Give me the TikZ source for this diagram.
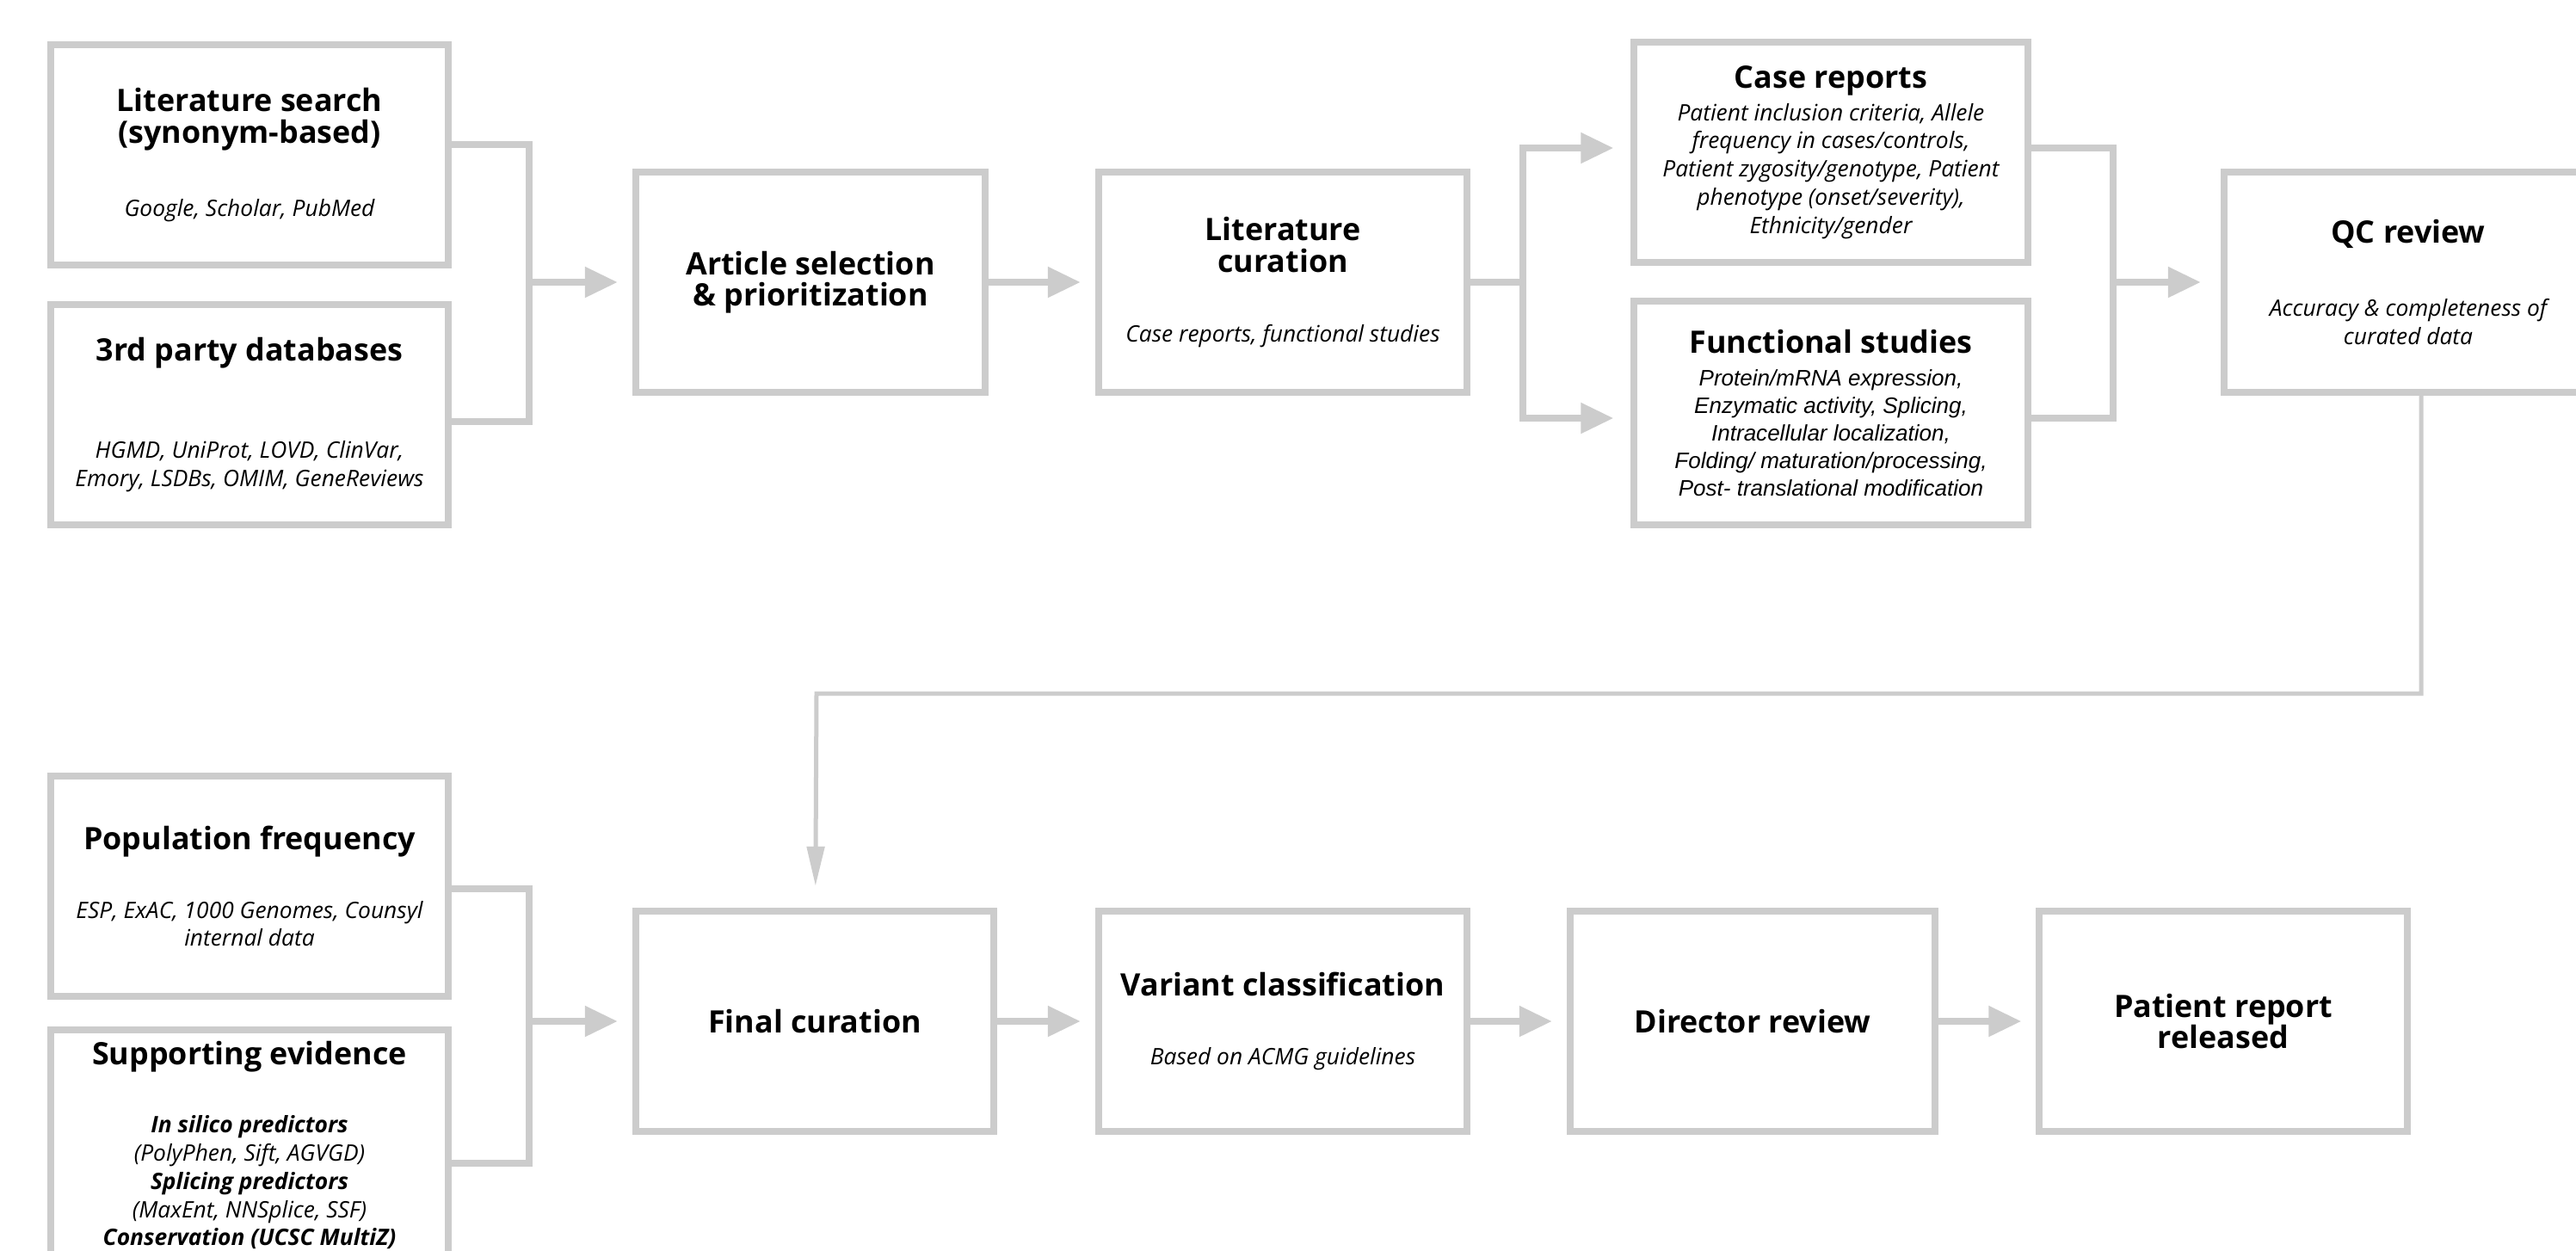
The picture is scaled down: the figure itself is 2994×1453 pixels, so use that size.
\documentclass[tikz,border=0pt]{standalone}
\usepackage{fontspec}
\setmainfont{Open Sans}
\newfontfamily\arialfont{Liberation Sans}
\usepackage{tikz}
\usetikzlibrary{arrows.meta,positioning,calc}
\definecolor{linegray}{HTML}{CCCCCC}
\newcommand{\hdfont}{\fontsize{10.2}{10.4}\selectfont\bfseries}
\newcommand{\bdfont}{\fontsize{7.5}{9.3}\selectfont\itshape}
\newcommand{\bdarial}{\arialfont\fontsize{7.4}{9.1}\selectfont\itshape}

\begin{document}
\begin{tikzpicture}[
  x=0.01cm, y=-0.01cm,
  stage/.style={draw=linegray,line width=0.08cm,fill=white,inner xsep=0.05cm,inner ysep=0pt,minimum height=2.56cm,text width=#1,align=flush center},
  link/.style={draw=linegray,line width=0.08cm},
  arrow/.style={link,-{Triangle[length=0.38cm,width=0.34cm]},shorten >=0.17cm},
  downarrow/.style={link,line width=0.05cm,-{Triangle[length=0.46cm,width=0.2cm]},shorten >=0.25cm}
]
\path[use as bounding box,fill=white] (0,0) rectangle (2994,1453);

% upper row
\node[stage=4.52cm] (litsearch) at (290,180) {{\hdfont Literature search\\(synonym-based)\par}\vspace{15pt}{\bdfont Google, Scholar, PubMed\par}};
\node[stage=4.52cm] (thirdparty) at (290,482) {{\hdfont 3rd party databases\par}\vspace{23pt}{\bdfont HGMD, UniProt, LOVD, ClinVar,\\Emory, LSDBs, OMIM, GeneReviews\par}};
\node[stage=3.96cm] (artsel) at (942,328) {{\hdfont Article selection\\\& prioritization\par}};
\node[stage=4.18cm] (litcur) at (1491,328) {{\hdfont Literature\\curation\par}\vspace{13.6pt}{\bdfont Case reports, functional studies\par}};
\node[stage=4.47cm] (casereps) at (2128,177) {{\hdfont Case reports\par}\vspace{1.4pt}{\bdfont Patient inclusion criteria, Allele\\frequency in cases/controls,\\Patient zygosity/genotype, Patient\\phenotype (onset/severity),\\Ethnicity/gender\par}};
\node[stage=4.47cm,minimum height=2.59cm] (funcstud) at (2128,480) {{\hdfont Functional studies\par}\vspace{1.8pt}{\bdarial Protein/mRNA expression,\\Enzymatic activity, Splicing,\\Intracellular localization,\\Folding/ maturation/processing,\\Post- translational modification\par}};
\node[stage=4.18cm] (qcrev) at (2799,328) {{\hdfont QC review\par}\vspace{14.8pt}{\bdfont Accuracy \& completeness of\\curated data\par}};

% lower row
\node[stage=4.52cm] (popfreq) at (290,1030) {{\hdfont Population frequency\par}\vspace{13.3pt}{\bdfont ESP, ExAC, 1000 Genomes, Counsyl\\internal data\par}};
\node[stage=4.52cm,minimum height=2.67cm] (suppev) at (290,1331) {{\hdfont Supporting evidence\par}\vspace{13.3pt}{\bdfont\bfseries In silico predictors\\\mdseries (PolyPhen, Sift, AGVGD)\\\bfseries Splicing predictors\\\mdseries (MaxEnt, NNSplice, SSF)\\\bfseries Conservation (UCSC MultiZ)\par}};
\node[stage=4.06cm] (fincur) at (947,1187) {{\hdfont Final curation\par}};
\node[stage=4.18cm] (varcls) at (1491,1187) {{\hdfont Variant classification\par}\vspace{13.3pt}{\bdfont Based on ACMG guidelines\par}};
\node[stage=4.14cm] (dirrev) at (2037,1187) {{\hdfont Director review\par}};
\node[stage=4.17cm] (patrep) at (2584,1187) {{\hdfont Patient report\\released\par}};

% junctions
\coordinate (jsrc) at (615,328);
\coordinate (jcur) at (1770,328);
\coordinate (jqc) at (2456,328);
\coordinate (jback) at (949,806);
\coordinate (jevid) at (615,1187);

\draw[link] ([yshift=0.12cm]litsearch.east) -| (jsrc) |- ([yshift=-0.08cm]thirdparty.east);
\draw[arrow] (jsrc) -- (artsel);
\draw[arrow] (artsel) -- (litcur);
\draw[link] (litcur) -- (jcur);
\draw[arrow,shorten >=0.2cm] (jcur) |- ([yshift=0.05cm]casereps.west);
\draw[arrow,shorten >=0.2cm] (jcur) |- ([yshift=-0.06cm]funcstud.west);
\draw[link] ([yshift=0.05cm]casereps.east) -| (jqc) |- ([yshift=-0.06cm]funcstud.east);
\draw[arrow,shorten >=0.23cm] (jqc) -- (qcrev);
\draw[downarrow] ([xshift=0.15cm]qcrev.south) |- (jback) -- (fincur);

\draw[link] ([yshift=-0.03cm]popfreq.east) -| (jevid) |- ([yshift=-0.21cm]suppev.east);
\draw[arrow] (jevid) -- (fincur);
\draw[arrow] (fincur) -- (varcls);
\draw[arrow] (varcls) -- (dirrev);
\draw[arrow] (dirrev) -- (patrep);
\end{tikzpicture}
\end{document}
